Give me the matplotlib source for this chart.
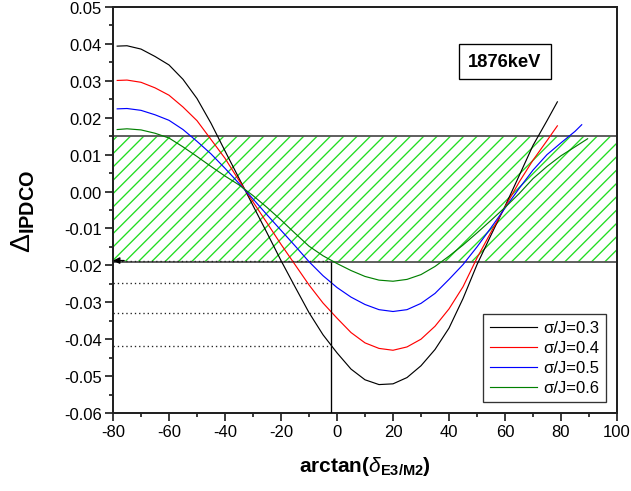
import matplotlib
matplotlib.use("Agg")
import matplotlib.pyplot as plt
from matplotlib.ticker import MultipleLocator, FormatStrFormatter

plt.rcParams['font.family'] = ['Liberation Sans', 'DejaVu Sans']
plt.rcParams['axes.unicode_minus'] = False
plt.rcParams['mathtext.fontset'] = 'custom'
plt.rcParams['mathtext.rm'] = 'Liberation Sans'
plt.rcParams['mathtext.it'] = 'Liberation Sans:italic'
plt.rcParams['mathtext.bf'] = 'Liberation Sans:bold'
plt.rcParams['hatch.linewidth'] = 0.8

# ---- data ----
x_short = [-78.5, -75, -70, -65, -60, -55, -50, -45, -40, -35, -30, -25, -20, -15, -10, -5,
           0, 5, 10, 15, 20, 25, 30, 35, 40, 45, 50, 55, 60, 65, 70, 75, 78.7]
y_03 = [0.0394, 0.0395, 0.0386, 0.0366, 0.0343, 0.0304, 0.0252, 0.0185, 0.0110, 0.0036,
        -0.0038, -0.0112, -0.0187, -0.0258, -0.0328, -0.0388, -0.0437, -0.0481, -0.0510,
        -0.0523, -0.0521, -0.0504, -0.0472, -0.0428, -0.0370, -0.0290, -0.0198, -0.0118,
        -0.0040, 0.0042, 0.0125, 0.0192, 0.0243]
y_04 = [0.0301, 0.0302, 0.0296, 0.0281, 0.0261, 0.0229, 0.0192, 0.0141, 0.0090, 0.0030,
        -0.0028, -0.0085, -0.0143, -0.0198, -0.0253, -0.0302, -0.0343, -0.0382, -0.0410,
        -0.0425, -0.0430, -0.0421, -0.0400, -0.0365, -0.0318, -0.0258, -0.0180, -0.0110,
        -0.0042, 0.0025, 0.0085, 0.0138, 0.0178]
x_05 = [-78.5, -75, -70, -65, -60, -55, -50, -45, -40, -35, -30, -25, -20, -15, -10, -5,
        0, 5, 10, 15, 20, 25, 30, 35, 40, 45, 50, 55, 60, 65, 70, 75, 80, 85, 87.4]
y_05 = [0.0224, 0.0225, 0.0220, 0.0208, 0.0193, 0.0168, 0.0136, 0.0102, 0.0063, 0.0022,
        -0.0020, -0.0063, -0.0105, -0.0147, -0.0190, -0.0228, -0.0260, -0.0286, -0.0306,
        -0.0320, -0.0325, -0.0320, -0.0303, -0.0276, -0.0238, -0.0198, -0.0150, -0.0098,
        -0.0045, 0.0008, 0.0058, 0.0100, 0.0132, 0.0163, 0.0181]
x_06 = [-78.5, -75, -70, -65, -60, -55, -50, -45, -40, -35, -30, -25, -20, -15, -10, -5,
        0, 5, 10, 15, 20, 25, 30, 35, 40, 45, 50, 55, 60, 65, 70, 75, 80, 85, 89.5]
y_06 = [0.0168, 0.0170, 0.0167, 0.0158, 0.0145, 0.0121, 0.0095, 0.0068, 0.0042, 0.0018,
        -0.0011, -0.0043, -0.0077, -0.0113, -0.0148, -0.0174, -0.0195, -0.0214, -0.0230,
        -0.0240, -0.0243, -0.0238, -0.0225, -0.0203, -0.0175, -0.0145, -0.0112, -0.0078,
        -0.0043, -0.0006, 0.0035, 0.0068, 0.0097, 0.0121, 0.0143]
labels = ['σ/J=0.3', 'σ/J=0.4', 'σ/J=0.5', 'σ/J=0.6']
colors = ['#000000', '#ff0000', '#0000ff', '#008000']

band_lo, band_hi = -0.019, 0.015
proj_x = -2
proj_vals = [-0.0187, -0.0247, -0.0328, -0.0418]
energy_label = '1876keV'
xlim = (-80, 100)
ylim = (-0.06, 0.05)

# ---- figure ----
fig = plt.figure(figsize=(631 / 120, 492 / 120), dpi=120)
ax = fig.add_axes([113 / 631, 1 - 414 / 492, 504 / 631, 406 / 492])
ax.set_xlim(*xlim)
ax.set_ylim(*ylim)

ax.axhspan(band_lo, band_hi, facecolor='none', edgecolor='#22dd22', hatch='///', linewidth=0, zorder=1)
ax.axhline(band_lo, color='#555555', lw=1.1, zorder=2)
ax.axhline(band_hi, color='#555555', lw=1.1, zorder=2)

series = [(x_short, y_03), (x_short, y_04), (x_05, y_05), (x_06, y_06)]
for (xs, ys), lab, c in zip(series, labels, colors):
    ax.plot(xs, ys, color=c, lw=0.7, label=lab, zorder=3)

ax.vlines(proj_x, ylim[0], band_lo, color='black', lw=0.8, zorder=3)
ax.hlines(proj_vals, xlim[0], proj_x, color='#222222', lw=0.8, linestyles=(0, (1, 2.2)), zorder=3)
ax.annotate('', xy=(xlim[0], proj_vals[0]), xytext=(xlim[0] + 4, proj_vals[0]),
            arrowprops=dict(arrowstyle='-|>', color='black', lw=0.8, mutation_scale=8,
                            shrinkA=0, shrinkB=0), zorder=4)

ax.text(60, 0.0352, energy_label, ha='center', va='center', fontsize=11, fontweight='bold',
        bbox=dict(boxstyle='square,pad=0.5', facecolor='white', edgecolor='black', lw=0.8), zorder=5)

ax.xaxis.set_major_locator(MultipleLocator(20))
ax.xaxis.set_minor_locator(MultipleLocator(10))
ax.yaxis.set_major_locator(MultipleLocator(0.01))
ax.yaxis.set_minor_locator(MultipleLocator(0.005))
ax.yaxis.set_major_formatter(FormatStrFormatter('%.2f'))
ax.tick_params(which='major', direction='out', length=4.8, width=0.9, labelsize=10, pad=2)
ax.tick_params(which='minor', direction='out', length=2.4, width=0.9)
ax.tick_params(top=False, right=False)
for s in ax.spines.values():
    s.set_linewidth(1.2)
    s.set_color('#222222')

ax.set_xlabel(r'arctan($\delta_{\mathbf{E3/M2}}$)', fontsize=12.5, fontweight='bold')
ax.xaxis.set_label_coords(0.5, -0.10)
ax.set_ylabel(r'$\Delta_{\mathbf{IPDCO}}$', fontsize=17)
ax.yaxis.set_label_coords(-0.15, 0.5)

leg = ax.legend(loc='lower right', fontsize=10, frameon=True, fancybox=False, edgecolor='black',
                handlelength=2.8, handletextpad=0.4, labelspacing=0.3, borderpad=0.4,
                borderaxespad=0.65)
leg.get_frame().set_linewidth(0.8)

fig.savefig('out.png', dpi=120)
